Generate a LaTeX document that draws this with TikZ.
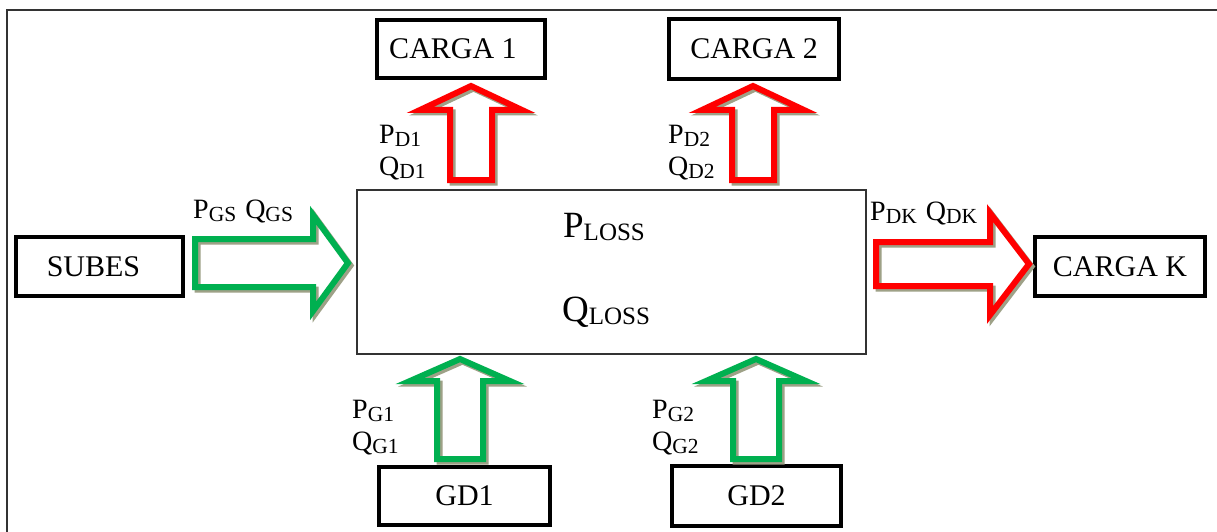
\documentclass[tikz,border=0pt]{standalone}
\usepackage{fontspec}
\setmainfont{Liberation Serif}
\usetikzlibrary{calc}
\definecolor{fgreen}{HTML}{00B050}
\definecolor{fred}{HTML}{FF0000}
\definecolor{fshadow}{HTML}{9EA187}
\definecolor{frame}{HTML}{333333}
% fat arrow outline: #1 style, #2 start, #3 end, #4 shaft half width, #5 head half width, #6 head length
\newcommand\fatarrow[6]{%
  \draw[#1] ($(#2)!#4!90:(#3)$) -- ($(#3)!#6!(#2)!#4!-90:(#2)$) -- ($(#3)!#6!(#2)!#5!-90:(#2)$) -- (#3)
    -- ($(#3)!#6!(#2)!#5!90:(#2)$) -- ($(#3)!#6!(#2)!#4!90:(#2)$) -- ($(#2)!#4!-90:(#3)$) -- cycle;}
\newcommand\fatpair[6]{%
  \fatarrow{fatshadow}{#2}{#3}{#4}{#5}{#6}%
  \fatarrow{fat,draw=#1}{#2}{#3}{#4}{#5}{#6}}
\newcommand\psub[2]{#1\raisebox{-3.5pt}{\fontsize{21.5}{21.5}\selectfont #2}}
\newcommand\plsub[2]{#1\raisebox{-3pt}{\fontsize{25}{25}\selectfont #2}}
\begin{document}
\begin{tikzpicture}[x=1pt,y=-1pt,
  box/.style={draw=black, line width=4pt, inner sep=0pt, font=\fontsize{30}{30}\selectfont},
  lbl/.style={inner sep=0pt, anchor=base west, font=\fontsize{28}{28}\selectfont},
  loss/.style={inner sep=0pt, anchor=base, font=\fontsize{37}{37}\selectfont},
  fat/.style={line width=6pt, line join=miter},
  fatshadow/.style={draw=fshadow, line width=6pt, line join=miter, transform canvas={shift={(2.5pt,-2.5pt)}}}]
\useasboundingbox (0,0) rectangle (1217,532);
\clip (0,0) rectangle (1217,532);
\fill[white] (0,0) rectangle (1217,532);
% outer frame (runs off the picture at right and bottom)
\draw[frame, line width=1.5pt] (7,560) -- (7,10) -- (1240,10);

% central box
\node[draw=frame, line width=1.5pt, minimum width=509pt, minimum height=164pt, inner sep=0pt] (net) at (611.5,272) {};
\node[loss] (ploss) at (604,237) {\plsub{P}{LOSS}};
\node[loss] (qloss) at (606,321) {\plsub{Q}{LOSS}};

% boxes
\node[box, minimum width=168pt, minimum height=58pt] (c1) at (461,49) {CARGA 1\kern16pt};
\node[box, minimum width=170pt, minimum height=60pt] (c2) at (754,49) {CARGA 2};
\node[box, minimum width=167pt, minimum height=59pt] (sub) at (99.5,266.5) {SUBES\kern12pt};
\node[box, minimum width=170pt, minimum height=59pt] (ck) at (1120,266.5) {CARGA K};
\node[box, minimum width=171pt, minimum height=58pt] (g1) at (464.5,496) {GD1};
\node[box, minimum width=169pt, minimum height=60pt] (g2) at (756.5,496) {GD2};

% arrow end points
\coordinate (gsS) at (195,263);  \coordinate (gsE) at (348,263);
\coordinate (dkS) at (876,264);  \coordinate (dkE) at (1029,264);
\coordinate (d1S) at (471,180);  \coordinate (d1E) at (471,86);
\coordinate (d2S) at (753,180);  \coordinate (d2E) at (753,86);
\coordinate (g1S) at (460,459);  \coordinate (g1E) at (460,359);
\coordinate (g2S) at (756,459);  \coordinate (g2E) at (756,359);

\fatpair{fgreen}{gsS}{gsE}{24pt}{48pt}{35pt}
\fatpair{fred}{dkS}{dkE}{22pt}{51pt}{39pt}
\fatpair{fred}{d1S}{d1E}{21pt}{51pt}{24pt}
\fatpair{fred}{d2S}{d2E}{21pt}{51pt}{24pt}
\fatpair{fgreen}{g1S}{g1E}{23pt}{50pt}{22pt}
\fatpair{fgreen}{g2S}{g2E}{23pt}{50pt}{22pt}

% labels
\node[lbl] (lgs) at (193,218) {\psub{P}{GS}\kern9pt\psub{Q}{GS}};
\node[lbl] (ldk) at (870,220) {\psub{P}{DK}\kern9pt\psub{Q}{DK}};
\node[lbl] (lpd1) at (379,143) {\psub{P}{D1}};
\node[lbl] (lqd1) at (379,175) {\psub{Q}{D1}};
\node[lbl] (lpd2) at (668,143) {\psub{P}{D2}};
\node[lbl] (lqd2) at (668,175) {\psub{Q}{D2}};
\node[lbl] (lpg1) at (352,418) {\psub{P}{G1}};
\node[lbl] (lqg1) at (352,450) {\psub{Q}{G1}};
\node[lbl] (lpg2) at (652,418) {\psub{P}{G2}};
\node[lbl] (lqg2) at (652,450) {\psub{Q}{G2}};
\end{tikzpicture}
\end{document}
